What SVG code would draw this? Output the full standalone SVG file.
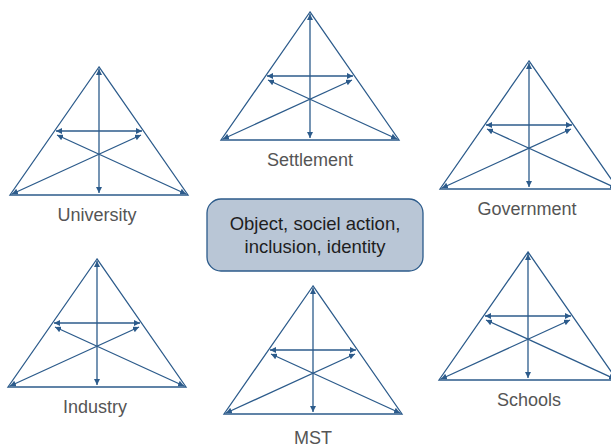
<svg xmlns="http://www.w3.org/2000/svg" xmlns:xlink="http://www.w3.org/1999/xlink" width="611" height="448" viewBox="0 0 611 448">
<style>
.ln{stroke:#2c5b8b;stroke-width:1.3;fill:none}
.ar{marker-start:url(#ah);marker-end:url(#ah)}
.lbl{font-family:"Liberation Sans",Arial,sans-serif;font-size:18px;fill:#555;text-anchor:middle}
.ctr{font-family:"Liberation Sans",Arial,sans-serif;font-size:18.5px;fill:#1e1e1e;text-anchor:middle}
</style>
<defs>
<marker id="ah" markerUnits="userSpaceOnUse" markerWidth="7" markerHeight="6" refX="6" refY="3" orient="auto-start-reverse">
<path d="M0,0 L6,3 L0,6 z" fill="#2c5b8b"/>
</marker>
<g id="tri">
<polygon class="ln" points="0,0 -89,128 89,128"/>
<line class="ln ar" x1="0" y1="2" x2="0" y2="126"/>
<line class="ln ar" x1="-43" y1="64" x2="43" y2="64"/>
<line class="ln ar" x1="-87" y1="127" x2="42" y2="68"/>
<line class="ln ar" x1="87" y1="127" x2="-42" y2="68"/>
</g>
</defs>
<g id="connectors"/>
<g id="university">
<use xlink:href="#tri" transform="translate(99,67)"/>
<text class="lbl" x="97" y="221">University</text>
</g>
<g id="settlement">
<use xlink:href="#tri" transform="translate(310,12)"/>
<text class="lbl" x="310" y="166">Settlement</text>
</g>
<g id="government">
<use xlink:href="#tri" transform="translate(529,61)"/>
<text class="lbl" x="527" y="215">Government</text>
</g>
<g id="industry">
<use xlink:href="#tri" transform="translate(97,259)"/>
<text class="lbl" x="95" y="413">Industry</text>
</g>
<g id="mst">
<use xlink:href="#tri" transform="translate(313,286)"/>
<text class="lbl" x="313" y="444">MST</text>
</g>
<g id="schools">
<use xlink:href="#tri" transform="translate(528,252)"/>
<text class="lbl" x="529" y="406">Schools</text>
</g>
<g id="center">
<rect x="207" y="199" width="216" height="72" rx="14" ry="14" fill="#b9c6d6" stroke="#2c5b8b" stroke-width="1.3"/>
<text class="ctr" x="315" y="230">Object, sociel action,</text>
<text class="ctr" x="315" y="253">inclusion, identity</text>
</g>
</svg>
